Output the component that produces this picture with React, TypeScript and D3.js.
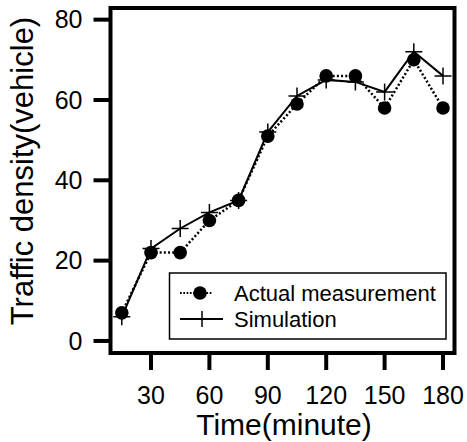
import React from "react";
import * as d3 from "d3";

const times = [15, 30, 45, 60, 75, 90, 105, 120, 135, 150, 165, 180];
const actual = [7, 22, 22, 30, 35, 51, 59, 66, 66, 58, 70, 58];
const simulation = [6, 23, 28, 32, 35, 52, 61, 65, 64.5, 62, 72, 66];
const xTicks = [30, 60, 90, 120, 150, 180];
const yTicks = [0, 20, 40, 60, 80];
const xTitle = "Time(minute)";
const yTitle = "Traffic density(vehicle)";
const legendLabels = ["Actual measurement", "Simulation"];

const FONT = "'Liberation Sans', Arial, Helvetica, sans-serif";

export default function App() {
  const W = 467;
  const H = 442;
  const x = d3.scaleLinear().domain([9.2, 185.9]).range([110.5, 454.5]);
  const y = d3.scaleLinear().domain([-3, 82.9]).range([353, 8]);

  const line = d3
    .line<number>()
    .x((_, i) => x(times[i]))
    .y((d) => y(d));

  const plus = (cx: number, cy: number, s: number, key: string) => (
    <path
      key={key}
      d={`M${cx - s},${cy}H${cx + s}M${cx},${cy - s}V${cy + s}`}
      stroke="#000"
      strokeWidth={1.5}
      fill="none"
    />
  );

  const [x0, x1] = x.range();
  const [yb, yt] = y.range();

  return (
    <svg
      width={W}
      height={H}
      style={{ position: "absolute", left: 0, top: 0 }}
      fontFamily={FONT}
    >
      <rect width={W} height={H} fill="#fff" />
      {/* actual measurement dotted line */}
      <path
        d={line(actual) || ""}
        fill="none"
        stroke="#000"
        strokeWidth={2.5}
        strokeDasharray="2,2.2"
      />
      {actual.map((v, i) => (
        <circle key={"c" + i} cx={x(times[i])} cy={y(v)} r={6.8} fill="#000" />
      ))}
      {/* simulation solid line */}
      <path d={line(simulation) || ""} fill="none" stroke="#000" strokeWidth={2} />
      {simulation.map((v, i) => plus(x(times[i]), y(v), 8.5, "p" + i))}

      {/* frame */}
      <rect
        x={x0}
        y={yt}
        width={x1 - x0}
        height={yb - yt}
        fill="none"
        stroke="#000"
        strokeWidth={4}
      />
      {/* y ticks */}
      {yTicks.map((t) => (
        <g key={"yt" + t}>
          <line x1={x0 - 17} x2={x0} y1={y(t)} y2={y(t)} stroke="#000" strokeWidth={4} />
          <text
            x={x0 - 28}
            y={y(t)}
            dy="0.35em"
            textAnchor="end"
            fontSize={25}
            fill="#000"
          >
            {t}
          </text>
        </g>
      ))}
      {/* x ticks */}
      {xTicks.map((t) => (
        <g key={"xt" + t}>
          <line x1={x(t)} x2={x(t)} y1={yb} y2={yb + 17} stroke="#000" strokeWidth={4} />
          <text x={x(t)} y={404} textAnchor="middle" fontSize={25} fill="#000">
            {t}
          </text>
        </g>
      ))}
      {/* axis titles */}
      <text x={284} y={435} textAnchor="middle" fontSize={30} fill="#000">
        {xTitle}
      </text>
      <text
        transform={`translate(33,171) rotate(-90)`}
        textAnchor="middle"
        fontSize={31}
        fill="#000"
      >
        {yTitle}
      </text>

      {/* legend */}
      <rect x={169.5} y={273} width={276.5} height={66} fill="#fff" stroke="#000" strokeWidth={1.5} />
      <line x1={180} x2={213} y1={293} y2={293} stroke="#000" strokeWidth={2} strokeDasharray="1.7,1.6" />
      <circle cx={200} cy={293} r={6.8} fill="#000" />
      <text x={234} y={293} dy="0.35em" fontSize={22} fill="#000">
        {legendLabels[0]}
      </text>
      <line x1={180} x2={223} y1={319} y2={319} stroke="#000" strokeWidth={2} />
      {plus(202, 319, 8, "lp")}
      <text x={234} y={319} dy="0.35em" fontSize={22} fill="#000">
        {legendLabels[1]}
      </text>
    </svg>
  );
}
